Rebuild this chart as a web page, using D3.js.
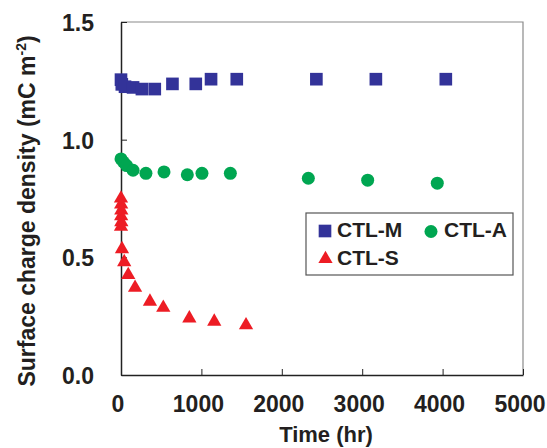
<!DOCTYPE html>
<html>
<head>
<meta charset="utf-8">
<script src="https://cdn.jsdelivr.net/npm/d3@7"></script>
<style>
  html, body { margin: 0; padding: 0; background: #fff; }
  svg { display: block; font-family: "Liberation Sans", Arial, sans-serif; }
</style>
</head>
<body>
<div id="chart"></div>
<script>
// time in hours, surface charge density in mC m^-2
const mTime = [0, 10, 50, 150, 260, 420, 640, 930, 1120, 1440, 2430, 3170, 4040];
const mValue = [1.255, 1.235, 1.225, 1.222, 1.215, 1.215, 1.237, 1.237, 1.257, 1.257, 1.257, 1.257, 1.257];

const aTime = [0, 30, 70, 150, 310, 535, 825, 1007, 1360, 2330, 3068, 3934];
const aValue = [0.918, 0.905, 0.89, 0.87, 0.857, 0.863, 0.851, 0.857, 0.857, 0.836, 0.828, 0.815];

const sTime = [0, 2, 4, 2, 4, 0, 12, 40, 90, 175, 360, 526, 850, 1160, 1555];
const sValue = [0.75, 0.725, 0.70, 0.675, 0.65, 0.63, 0.535, 0.48, 0.425, 0.371, 0.312, 0.286, 0.241, 0.227, 0.212];

const xTicks = [0, 1000, 2000, 3000, 4000, 5000];
const yTicks = [0, 0.5, 1.0, 1.5];

const series = [
  { name: "CTL-S", time: sTime, value: sValue, color: "#ed1c24", symbol: d3.symbolTriangle, size: 88 },
  { name: "CTL-A", time: aTime, value: aValue, color: "#00a651", symbol: d3.symbolCircle, size: 133 },
  { name: "CTL-M", time: mTime, value: mValue, color: "#333399", symbol: d3.symbolSquare, size: 160 }
];

const width = 547;
const height = 448;
const margin = { top: 22, right: 24, bottom: 73, left: 121 };

const svg = d3.select("#chart")
  .append("svg")
  .attr("width", width)
  .attr("height", height);

const innerWidth = width - margin.left - margin.right;
const innerHeight = height - margin.top - margin.bottom;

const x = d3.scaleLinear().domain([0, 5000]).range([margin.left, margin.left + innerWidth]);
const y = d3.scaleLinear().domain([0, 1.5]).range([margin.top + innerHeight, margin.top]);

// frame: top and right in grey
svg.append("path")
  .attr("d", `M${x(0)},${y(1.5)}H${x(5000)}V${y(0)}`)
  .attr("fill", "none")
  .attr("stroke", "#8a8a8a")
  .attr("stroke-width", 1.2);

// axes: lines and inward ticks only, labels drawn below
const xAxis = svg.append("g")
  .attr("transform", `translate(0,${y(0)})`)
  .call(d3.axisBottom(x).tickValues(xTicks).tickSize(-6).tickSizeOuter(0).tickFormat(""));

const yAxis = svg.append("g")
  .attr("transform", `translate(${x(0)},0)`)
  .call(d3.axisLeft(y).tickValues(yTicks).tickSize(-6).tickSizeOuter(0).tickFormat(""));

[xAxis, yAxis].forEach(ax => {
  ax.select(".domain").attr("stroke", "#222").attr("stroke-width", 1.5);
  ax.selectAll(".tick line").attr("stroke", "#222").attr("stroke-width", 1);
  ax.selectAll(".tick text").remove();
});

svg.append("g")
  .selectAll("text")
  .data(xTicks)
  .join("text")
  .attr("x", d => x(d) - 3)
  .attr("y", 412)
  .attr("text-anchor", "middle")
  .attr("font-size", 23)
  .attr("font-weight", "bold")
  .attr("fill", "#231f20")
  .text(d3.format("d"));

svg.append("g")
  .selectAll("text")
  .data(yTicks)
  .join("text")
  .attr("x", x(0) - 27)
  .attr("y", d => y(d) + 9)
  .attr("text-anchor", "end")
  .attr("font-size", 23)
  .attr("font-weight", "bold")
  .attr("fill", "#231f20")
  .text(d3.format(".1f"));

// markers
series.forEach(s => {
  svg.append("g")
    .selectAll("path")
    .data(s.time.map((t, i) => [t, s.value[i]]))
    .join("path")
    .attr("transform", d => `translate(${x(d[0])},${y(d[1])})`)
    .attr("d", d3.symbol().type(s.symbol).size(s.size))
    .attr("fill", s.color);
});

// axis titles
svg.append("text")
  .attr("x", x(2500) + 4)
  .attr("y", 442)
  .attr("text-anchor", "middle")
  .attr("font-size", 22)
  .attr("font-weight", "bold")
  .attr("fill", "#231f20")
  .text("Time (hr)");

const yTitle = svg.append("text")
  .attr("transform", "translate(35,211) rotate(-90)")
  .attr("text-anchor", "middle")
  .attr("font-size", 23)
  .attr("font-weight", "bold")
  .attr("fill", "#231f20");
yTitle.append("tspan").text("Surface charge density (mC m");
yTitle.append("tspan").attr("font-size", 14).attr("dy", -9).text("-2");
yTitle.append("tspan").attr("dy", 9).text(")");

// legend
const legend = svg.append("g");
legend.append("rect")
  .attr("x", 306).attr("y", 213)
  .attr("width", 207).attr("height", 62)
  .attr("fill", "#fff")
  .attr("stroke", "#555")
  .attr("stroke-width", 1.2);

const legendItems = [
  { s: series[2], mx: 325, my: 231, tx: 337, ty: 237 },
  { s: series[1], mx: 431, my: 231.5, tx: 444, ty: 237 },
  { s: series[0], mx: 325.5, my: 259, tx: 337, ty: 265 }
];
legendItems.forEach(it => {
  legend.append("path")
    .attr("transform", `translate(${it.mx},${it.my})`)
    .attr("d", d3.symbol().type(it.s.symbol).size(it.s.size))
    .attr("fill", it.s.color);
  legend.append("text")
    .attr("x", it.tx).attr("y", it.ty)
    .attr("font-size", 21)
    .attr("font-weight", "bold")
    .attr("fill", "#231f20")
    .text(it.s.name);
});
</script>
</body>
</html>
